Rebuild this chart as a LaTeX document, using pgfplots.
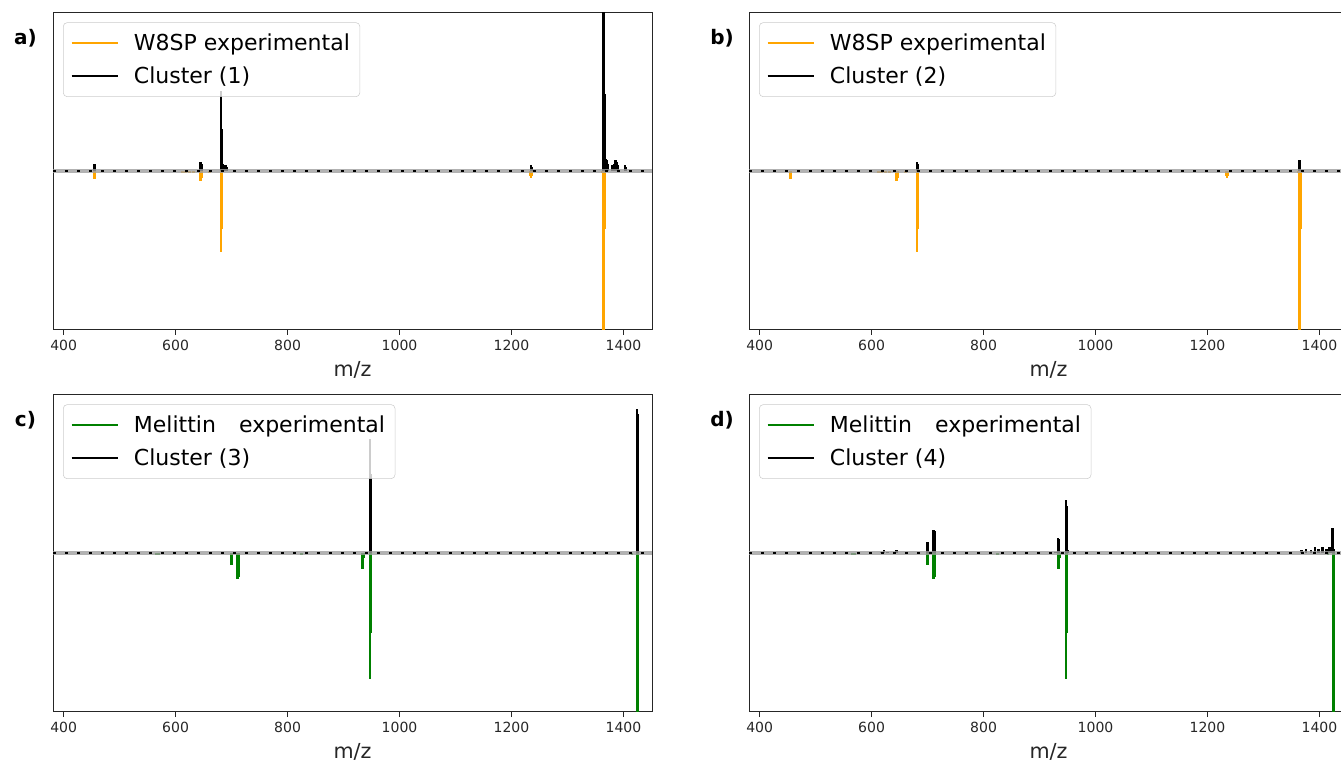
\documentclass[border=0pt]{standalone}
\usepackage{fontspec}
\setmainfont{DejaVu Sans}
\usepackage{pgfplots}
\pgfplotsset{compat=1.18}

\definecolor{mplorange}{HTML}{FFA500}
\definecolor{mplgreen}{HTML}{008000}

\pgfplotsset{
  linelegend/.style={legend image code/.code={\draw[##1,line width=1.5pt] (0pt,0pt) -- (35pt,0pt);}},
  spec/.style={
    scale only axis, width=449.25pt, height=237.75pt,
    xmin=381, xmax=1451, ymin=-1, ymax=1,
    xtick={400,600,...,1400}, ytick=\empty,
    tick align=outside, xtick pos=bottom, major tick length=3.75pt,
    tick style={black!85, line width=0.6pt},
    axis line style={black!85, line width=0.75pt},
    /pgf/number format/assume math mode=true,
    /pgf/number format/1000 sep={},
    ticklabel style={font=\fontsize{10.5}{12}\selectfont, text=black!85},
    xlabel={m/z},
    xlabel style={font=\fontsize{15.5}{18}\selectfont, text=black!85, yshift=-1.5pt},
    legend cell align=left,
    legend style={at={(0,1)}, anchor=north west, xshift=7.5pt, yshift=-7pt,
      draw=black!20, rounded corners=3pt, fill=white, fill opacity=0.8,
      text opacity=1, draw opacity=1,
      font=\fontsize{16.5}{19.8}\selectfont, inner xsep=5.5pt, inner ysep=6.5pt,
      row sep=6.5pt, column sep=9pt},
  },
  spike/.style={ycomb, line width=2pt, linelegend},
  band/.style={gray!75, line width=3pt, opacity=0.8, forget plot},
  dots/.style={black, line width=1.5pt, dash pattern=on 2.5pt off 6.5pt, forget plot},
}

\begin{document}
\begin{tikzpicture}

% a)
\begin{axis}[spec, at={(39.75pt,324.75pt)}, anchor=south west]
\addplot[spike, mplorange] coordinates {
(454,-0.04)(455,-0.05)(456,-0.03)(612,-0.01)(618,-0.01)(625,-0.01)(632,-0.01)
(644,-0.06)(645,-0.06)(646,-0.04)(660,-0.01)(681,-0.51)(682,-0.36)(683,-0.1)
(1234,-0.03)(1235,-0.04)(1236,-0.03)(1362,-0.01)(1364,-1.0)(1365,-1.0)(1366,-0.36)(1367,-0.05)};
\addlegendentry{W8SP experimental}
\addplot[spike, black] coordinates {
(454,0.03)(455,0.05)(456,0.04)(644,0.06)(645,0.06)(646,0.05)(681,0.51)(682,0.27)(683,0.09)
(684,0.05)(688,0.04)(690,0.04)(692,0.03)(1235,0.04)(1236,0.03)(1364,1.2)(1365,1.2)(1366,0.49)
(1368,0.08)(1370,0.07)(1372,0.05)(1381,0.04)(1383,0.05)(1386,0.07)(1388,0.06)(1390,0.04)
(1403,0.04)(1404,0.03)};
\addlegendentry{Cluster (1)}
\addplot[band] coordinates {(381,0)(1451,0)};
\addplot[dots] coordinates {(381,0)(1451,0)};
\end{axis}

% b)
\begin{axis}[spec, at={(561.75pt,324.75pt)}, anchor=south west]
\addplot[spike, mplorange] coordinates {
(454,-0.04)(455,-0.05)(456,-0.03)(612,-0.01)(618,-0.01)(625,-0.01)(632,-0.01)
(644,-0.06)(645,-0.06)(646,-0.04)(660,-0.01)(681,-0.51)(682,-0.36)(683,-0.1)
(1234,-0.03)(1235,-0.04)(1236,-0.03)(1362,-0.01)(1364,-1.0)(1365,-1.0)(1366,-0.36)(1367,-0.05)};
\addlegendentry{W8SP experimental}
\addplot[spike, black] coordinates {
(681,0.06)(682,0.05)(1364,0.07)(1365,0.06)};
\addlegendentry{Cluster (2)}
\addplot[band] coordinates {(381,0)(1451,0)};
\addplot[dots] coordinates {(381,0)(1451,0)};
\end{axis}

% c)
\begin{axis}[spec, at={(39.75pt,38.25pt)}, anchor=south west]
\addplot[spike, mplgreen] coordinates {
(565,-0.01)(570,-0.01)(700,-0.07)(701,-0.06)(711,-0.16)(712,-0.15)(825,-0.01)
(933,-0.09)(934,-0.10)(936,-0.03)(947,-0.79)(948,-0.5)(1415,-0.01)(1424,-1.0)(1425,-1.0)(1426,-0.6)};
\addlegendentry{Melittin\hspace{1.05em}experimental}
\addplot[spike, black] coordinates {
(947,0.72)(948,0.5)(1424,0.91)(1425,0.88)};
\addlegendentry{Cluster (3)}
\addplot[band] coordinates {(381,0)(1451,0)};
\addplot[dots] coordinates {(381,0)(1451,0)};
\end{axis}

% d)
\begin{axis}[spec, at={(561.75pt,38.25pt)}, anchor=south west]
\addplot[spike, mplgreen] coordinates {
(565,-0.01)(570,-0.01)(700,-0.07)(701,-0.06)(711,-0.16)(712,-0.15)(825,-0.01)
(933,-0.09)(934,-0.10)(936,-0.03)(947,-0.79)(948,-0.5)(1415,-0.01)(1424,-1.0)(1425,-1.0)(1426,-0.6)};
\addlegendentry{Melittin\hspace{1.05em}experimental}
\addplot[spike, black] coordinates {
(618,0.01)(622,0.02)(628,0.01)(645,0.02)(700,0.07)(701,0.06)(711,0.15)(712,0.14)
(928,0.01)(933,0.10)(934,0.09)(940,0.01)(947,0.34)(948,0.3)(950,0.02)
(1368,0.02)(1376,0.03)(1385,0.02)(1392,0.04)(1398,0.03)(1405,0.04)(1412,0.03)(1418,0.04)
(1423,0.16)(1424,0.12)(1426,0.03)};
\addlegendentry{Cluster (4)}
\addplot[band] coordinates {(381,0)(1451,0)};
\addplot[dots] coordinates {(381,0)(1451,0)};
\end{axis}

\node[font=\bfseries\fontsize{15}{18}\selectfont] at (19.1pt,543.75pt) {a)};
\node[font=\bfseries\fontsize{15}{18}\selectfont] at (541.5pt,543.75pt) {b)};
\node[font=\bfseries\fontsize{15}{18}\selectfont] at (19.1pt,257.25pt) {c)};
\node[font=\bfseries\fontsize{15}{18}\selectfont] at (541.5pt,257.25pt) {d)};

\pgfresetboundingbox
\path[use as bounding box] (0pt,0pt) rectangle (1005.75pt,572.25pt);
\end{tikzpicture}
\end{document}
